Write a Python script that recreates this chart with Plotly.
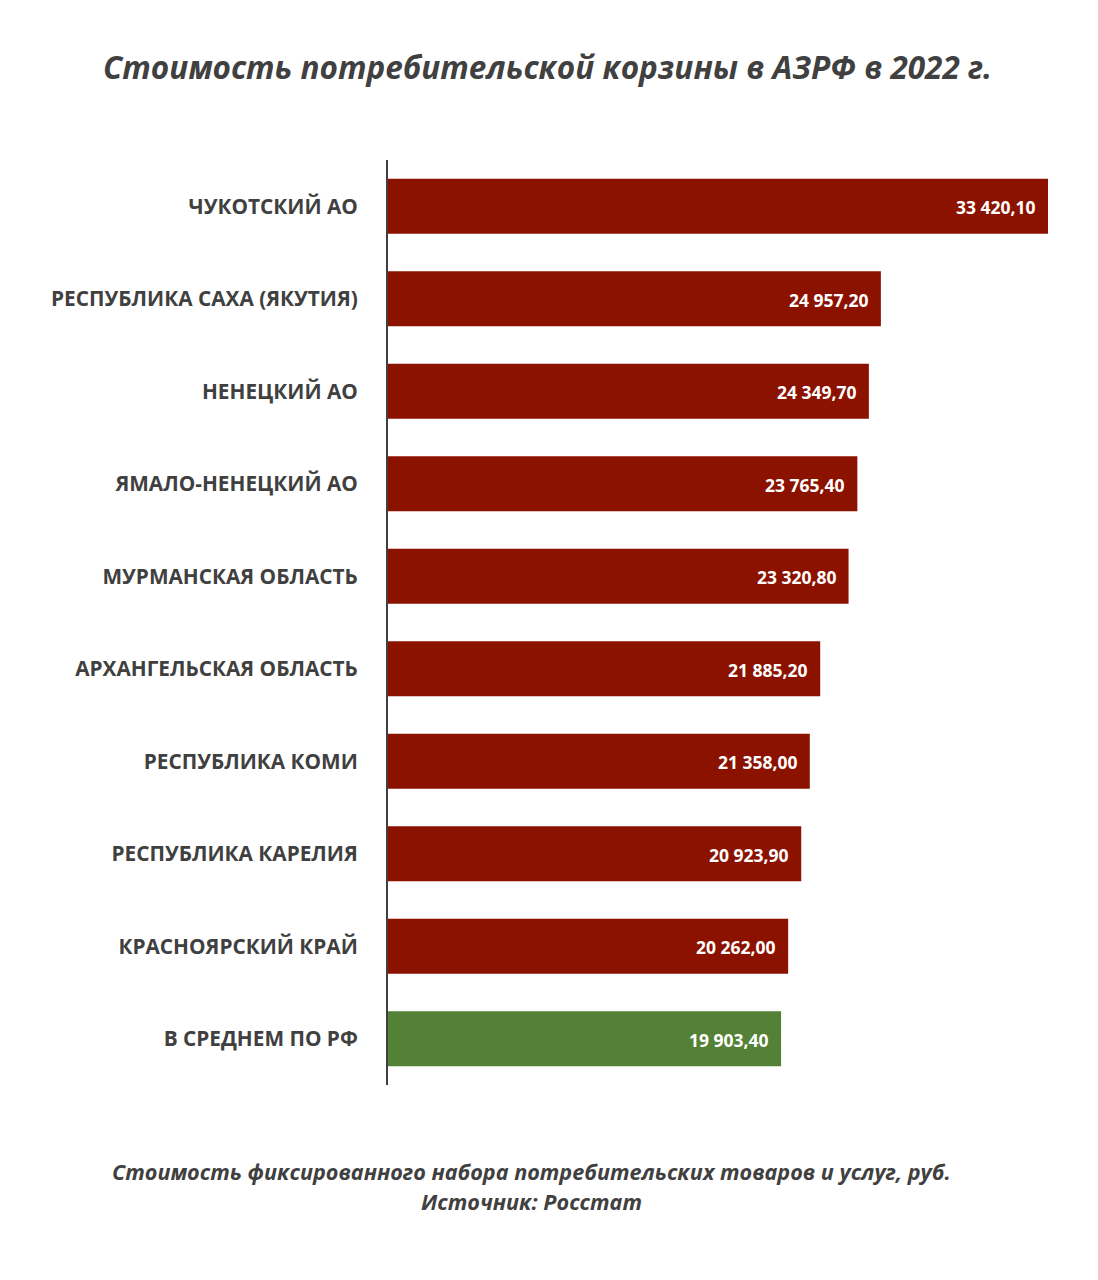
import plotly.graph_objects as go

regions = [
    "ЧУКОТСКИЙ АО",
    "РЕСПУБЛИКА САХА (ЯКУТИЯ)",
    "НЕНЕЦКИЙ АО",
    "ЯМАЛО-НЕНЕЦКИЙ АО",
    "МУРМАНСКАЯ ОБЛАСТЬ",
    "АРХАНГЕЛЬСКАЯ ОБЛАСТЬ",
    "РЕСПУБЛИКА КОМИ",
    "РЕСПУБЛИКА КАРЕЛИЯ",
    "КРАСНОЯРСКИЙ КРАЙ",
    "В СРЕДНЕМ ПО РФ",
]
values = [33420.10, 24957.20, 24349.70, 23765.40, 23320.80, 21885.20, 21358.00, 20923.90, 20262.00, 19903.40]
RED = "#8C1200"
GREEN = "#538135"
colors = [RED] * 9 + [GREEN]


def fmt(v):
    s = f"{v:,.2f}"
    return s.replace(",", " ").replace(".", ",")


labels = [fmt(v) for v in values]

fig = go.Figure()
fig.add_trace(go.Bar(
    x=values, y=regions, orientation="h",
    marker=dict(color=colors, line=dict(width=0)),
    hoverinfo="skip",
))

for v, r, t in zip(values, regions, labels):
    fig.add_annotation(
        x=v, y=r, text=t, xanchor="right", yanchor="middle",
        xshift=-10, yshift=-1, showarrow=False,
        font=dict(family="Open Sans", size=17.5, color="white", weight="bold"),
    )

TXT = "#404040"
fig.update_layout(
    width=1098, height=1280,
    margin=dict(l=388, r=38, t=160, b=195),
    paper_bgcolor="white", plot_bgcolor="white",
    bargap=0.405,
    showlegend=False,
    xaxis=dict(range=[0, 34027], visible=False, fixedrange=True),
    yaxis=dict(
        autorange="reversed",
        showline=True, linecolor="#404040", linewidth=2,
        ticks="", showgrid=False, zeroline=False,
        ticklabelstandoff=24,
        tickfont=dict(family="Open Sans", size=20.8, color=TXT, weight="bold"),
    ),
    title=dict(
        text="<b><i>Стоимость потребительской корзины в АЗРФ в 2022 г.</i></b>",
        x=(105 + 990) / 2 / 1098, xanchor="center", xref="container",
        y=1 - 68 / 1280, yanchor="middle", yref="container",
        font=dict(family="Open Sans", size=31.5, color=TXT),
    ),
)

fig.add_annotation(
    text="<b><i>Стоимость фиксированного набора потребительских товаров и услуг, руб.</i></b>",
    xref="paper", yref="paper", x=(531 - 388) / 672, y=-(1171 - 1085) / 925,
    xanchor="center", yanchor="middle", showarrow=False,
    font=dict(family="Open Sans", size=21.6, color=TXT),
)
fig.add_annotation(
    text="<b><i>Источник: Росстат</i></b>",
    xref="paper", yref="paper", x=(531 - 388) / 672, y=-(1201 - 1085) / 925,
    xanchor="center", yanchor="middle", showarrow=False,
    font=dict(family="Open Sans", size=21.6, color=TXT),
)

fig.write_html("out.html")
